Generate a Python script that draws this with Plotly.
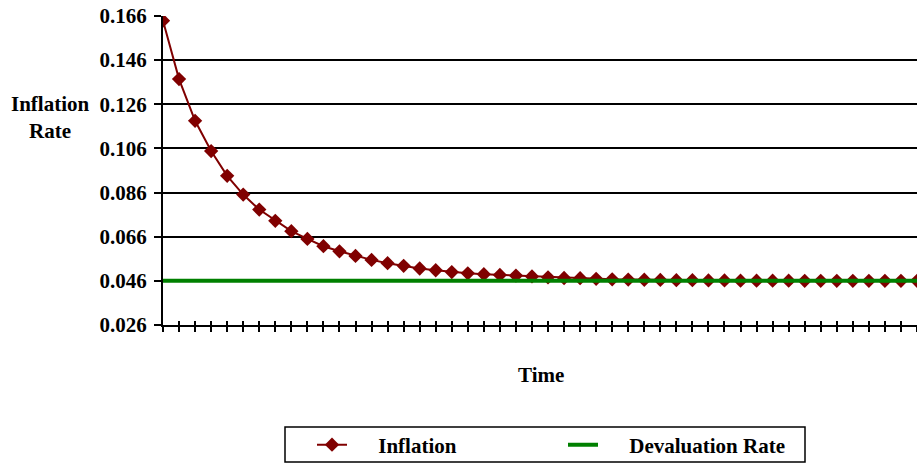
import plotly.graph_objects as go

time_idx = list(range(48))
inflation = [0.1639, 0.1374, 0.1185, 0.1048, 0.0936, 0.0851, 0.0783, 0.0732, 0.0685, 0.0650,
             0.0617, 0.0594, 0.0573, 0.0555, 0.0540, 0.0528, 0.0516, 0.0508, 0.0500, 0.0494,
             0.0490, 0.0487, 0.0484, 0.0480, 0.0476, 0.0473, 0.0472, 0.0469, 0.0467, 0.0466,
             0.0465, 0.0464, 0.0463, 0.0463, 0.0462, 0.0462, 0.0461, 0.0461, 0.0461, 0.0461,
             0.0460, 0.0460, 0.0460, 0.0460, 0.0460, 0.0460, 0.0460, 0.0460]
devaluation = [0.046] * 48
y_ticks = [0.026, 0.046, 0.066, 0.086, 0.106, 0.126, 0.146, 0.166]

FONT = "Liberation Serif"
FS = 21
PAD = "\u00a0" * 5

fig = go.Figure()
fig.add_trace(go.Scatter(x=time_idx, y=inflation, mode="lines+markers", name=PAD + "Inflation",
                         line=dict(color="#800000", width=2),
                         marker=dict(symbol="diamond", size=11, color="#800000")))
fig.add_trace(go.Scatter(x=time_idx, y=devaluation, mode="lines", name=PAD + "Devaluation Rate",
                         line=dict(color="#008000", width=4)))
fig.add_trace(go.Scatter(x=[0], y=[0.026], xaxis="x2", mode="markers",
                         marker=dict(opacity=0), showlegend=False, hoverinfo="skip"))

W, H, L, T, PW, PH = 917, 466, 163, 16, 754, 309

fig.update_layout(
    width=W, height=H,
    margin=dict(l=L, r=0, t=T, b=H - T - PH),
    paper_bgcolor="white", plot_bgcolor="white",
    font=dict(family=FONT, size=FS, color="black"),
    showlegend=True,
    xaxis=dict(range=[0, 47], tickmode="linear", tick0=0, dtick=1,
               ticks="outside", ticklen=5, tickwidth=2, tickcolor="black",
               showticklabels=False, showgrid=False, zeroline=False,
               showline=True, linecolor="black", linewidth=2),
    xaxis2=dict(range=[0, 47], overlaying="x", anchor="y", side="bottom",
                tickmode="linear", tick0=0, dtick=1,
                ticks="inside", ticklen=4, tickwidth=2, tickcolor="black",
                showticklabels=False, showgrid=False, zeroline=False, showline=False),
    yaxis=dict(range=[0.026, 0.166], tickmode="array", tickvals=y_ticks,
               ticktext=[f"{v:.3f}" for v in y_ticks],
               ticks="outside", ticklen=7, tickwidth=2, tickcolor="black",
               tickfont=dict(family=FONT, size=FS, color="black", weight="bold"),
               ticklabelstandoff=3,
               showgrid=True, gridcolor="black", gridwidth=2, zeroline=False,
               showline=True, linecolor="black", linewidth=2),
    legend=dict(orientation="h", xref="container", yref="container",
                x=312 / W, y=1 - 445 / H, xanchor="left", yanchor="middle",
                borderwidth=0, bgcolor="rgba(0,0,0,0)",
                font=dict(family=FONT, size=FS, color="black", weight="bold"),
                entrywidth=206, entrywidthmode="pixels"),
    shapes=[dict(type="rect", xref="paper", yref="paper",
                 x0=(285 - L) / PW, x1=(805 - L) / PW,
                 y0=1 - (462 - T) / PH, y1=1 - (427 - T) / PH,
                 line=dict(color="black", width=1.5), fillcolor="rgba(0,0,0,0)")],
    annotations=[
        dict(text="<b>Inflation<br>Rate</b>", xref="paper", yref="paper",
             x=(50 - L) / PW, y=1 - (117 - T) / PH, xanchor="center", yanchor="middle",
             showarrow=False, font=dict(family=FONT, size=FS, color="black")),
        dict(text="<b>Time</b>", xref="paper", yref="paper",
             x=(541 - L) / PW, y=-(375 - 325) / PH, xanchor="center", yanchor="middle",
             showarrow=False, font=dict(family=FONT, size=FS, color="black")),
    ],
)

fig.write_html("out.html")
